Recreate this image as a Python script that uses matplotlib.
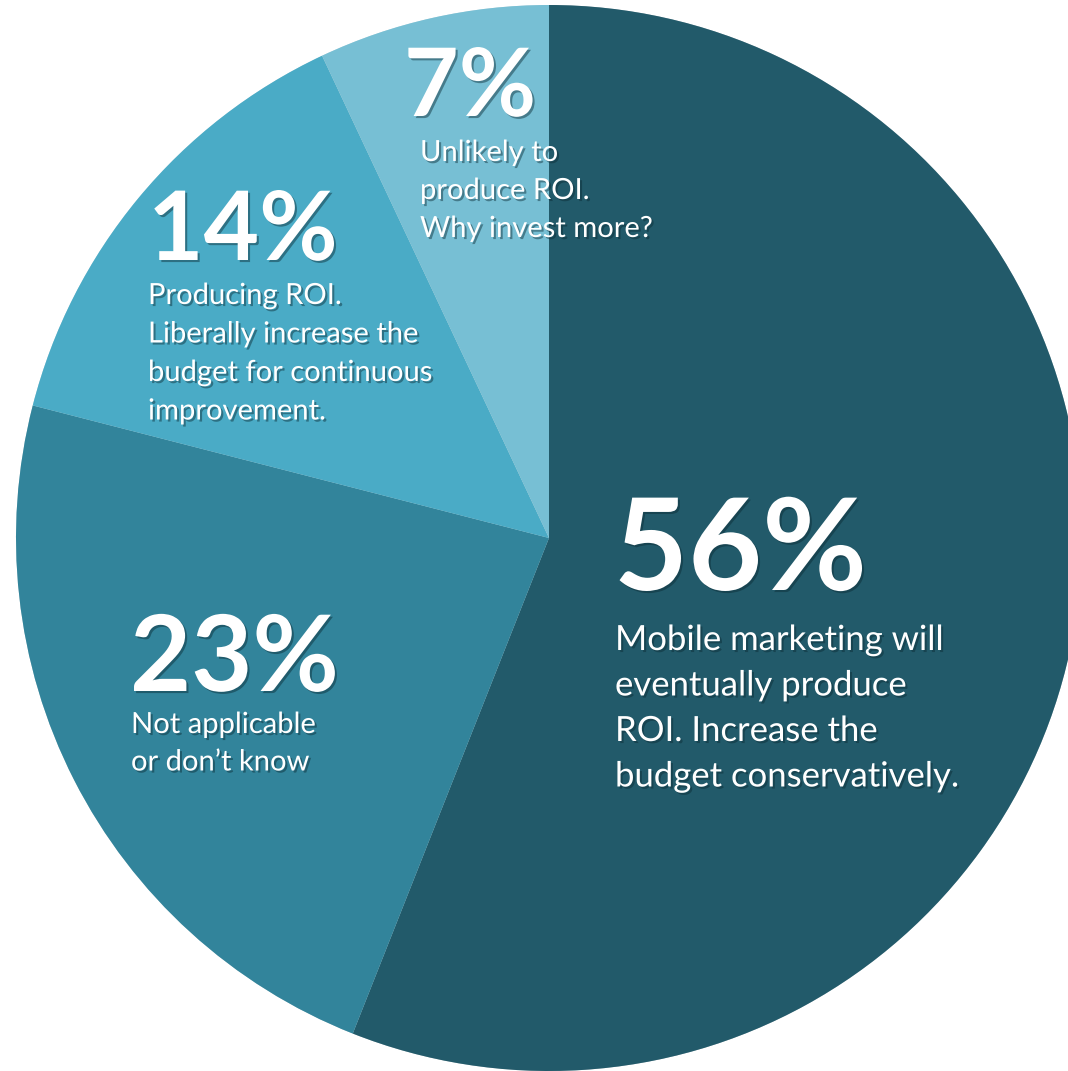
import matplotlib
matplotlib.use("Agg")
import matplotlib.pyplot as plt
import matplotlib.patheffects as pe

categories = ["Mobile marketing will\neventually produce\nROI. Increase the\nbudget conservatively.",
              "Not applicable\nor don\u2019t know",
              "Producing ROI.\nLiberally increase the\nbudget for continuous\nimprovement.",
              "Unlikely to\nproduce ROI.\nWhy invest more?"]
values = [56, 23, 14, 7]
pct_labels = ["56%", "23%", "14%", "7%"]
colors = ["#225A6A", "#32849B", "#4AABC6", "#77BFD4"]

W, H = 1068, 1071
fig = plt.figure(figsize=(W / 100, H / 100), dpi=100)
ax = fig.add_axes([0, 0, 1, 1])
plt.rcParams['font.family'] = ['Lato', 'DejaVu Sans']

cx, cy, R = 549, H - 538, 533
ax.pie(values, colors=colors, startangle=90, counterclock=False,
       radius=R, center=(cx, cy), frame=True,
       wedgeprops=dict(linewidth=0),
       shadow=dict(ox=0.004, oy=-0.006, alpha=0.35, shade=0.2))
ax.set_xlim(0, W)
ax.set_ylim(0, H)
ax.set_aspect('equal')
ax.axis('off')

shadow = [pe.SimplePatchShadow(offset=(1.5, -1.5), alpha=0.45, shadow_rgbFace='#0a2a33'), pe.Normal()]

# (pct x, pct baseline y, pct size, text x, first line baseline y, text size, line step px)
layout = [
    (614, 590, 92, 615, 650, 25, 45.5),
    (130, 691, 76, 131, 733, 21, 37.5),
    (148, 260, 69, 148, 304, 21, 38.5),
    (404, 116, 68, 420, 161, 21, 38),
]
for (px, py, ps, tx, ty, ts, step), pct, txt in zip(layout, pct_labels, categories):
    ax.text(px, H - py, pct, color='white', fontsize=ps, fontweight='bold',
            ha='left', va='baseline', path_effects=shadow)
    for i, line in enumerate(txt.split("\n")):
        ax.text(tx, H - (ty + i * step), line, color='white', fontsize=ts,
                ha='left', va='baseline', path_effects=shadow)

fig.savefig("out.png", dpi=100)
